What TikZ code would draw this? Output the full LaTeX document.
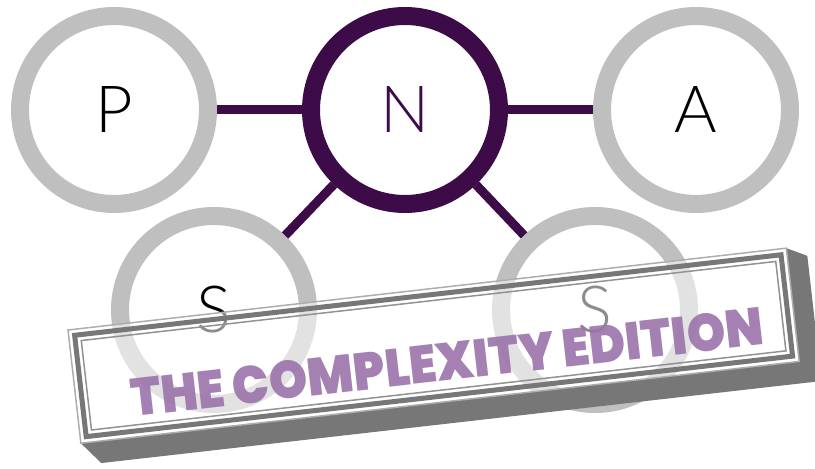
\documentclass[tikz,border=0pt]{standalone}
\usepackage{fontspec}
\usepackage{graphicx}
\usetikzlibrary{positioning}
\newfontfamily\ringfont{Lato Light}
\newfontfamily\bannerfont{Poppins Black}
\definecolor{pnasdark}{HTML}{3D0B47}
\definecolor{pnasgray}{HTML}{BFBFBF}
\definecolor{pnaslilac}{HTML}{9B73AB}
\definecolor{framegray}{HTML}{777777}

\begin{document}
\begin{tikzpicture}[x=1pt,y=1pt,
         ring node/.style={circle,draw=pnasgray,fill=white,line width=18pt,minimum size=188pt,
           inner sep=0pt,font=\ringfont\fontsize{65}{65}\selectfont},
         link/.style={pnasdark,line width=9pt}]
     \useasboundingbox (0,0) rectangle (815,469);

     \node[ring node,draw=pnasdark,text=pnasdark] (N) at (405,359) {N};
     \node[ring node] (P) [left=85pt of N]  {P};
     \node[ring node] (A) [right=85pt of N] {A};
     \node[ring node] (S1) at (214,159) {S};
     \node[ring node] (S2) at (595,159) {S};

     \draw[link] (N) -- (P);
     \draw[link] (N) -- (A);
     \draw[link] (N) -- (S1);
     \draw[link] (N) -- (S2);

     \begin{scope}[shift={(68,139)},rotate=6.5]
       \fill[framegray] (723,0) -- (743,-10) -- (743,-136) -- (18,-136) -- (0,-114) -- (723,-114) -- cycle;
       \fill[white,opacity=0.55] (0,0) rectangle (723,-114);
       \draw[framegray!60,line width=1.5pt] (0,0) rectangle (723,-114);
       \draw[framegray,line width=5pt] (6,-6) rectangle (717,-108);
       \draw[framegray!80,line width=1.5pt] (12,-12) rectangle (711,-102);
     \end{scope}

     \node[rotate=6.5,text=pnaslilac,opacity=0.9] (title) at (447,107)
       {\resizebox{636pt}{38pt}{\bannerfont THE COMPLEXITY EDITION}};
 \end{tikzpicture}
\end{document}
